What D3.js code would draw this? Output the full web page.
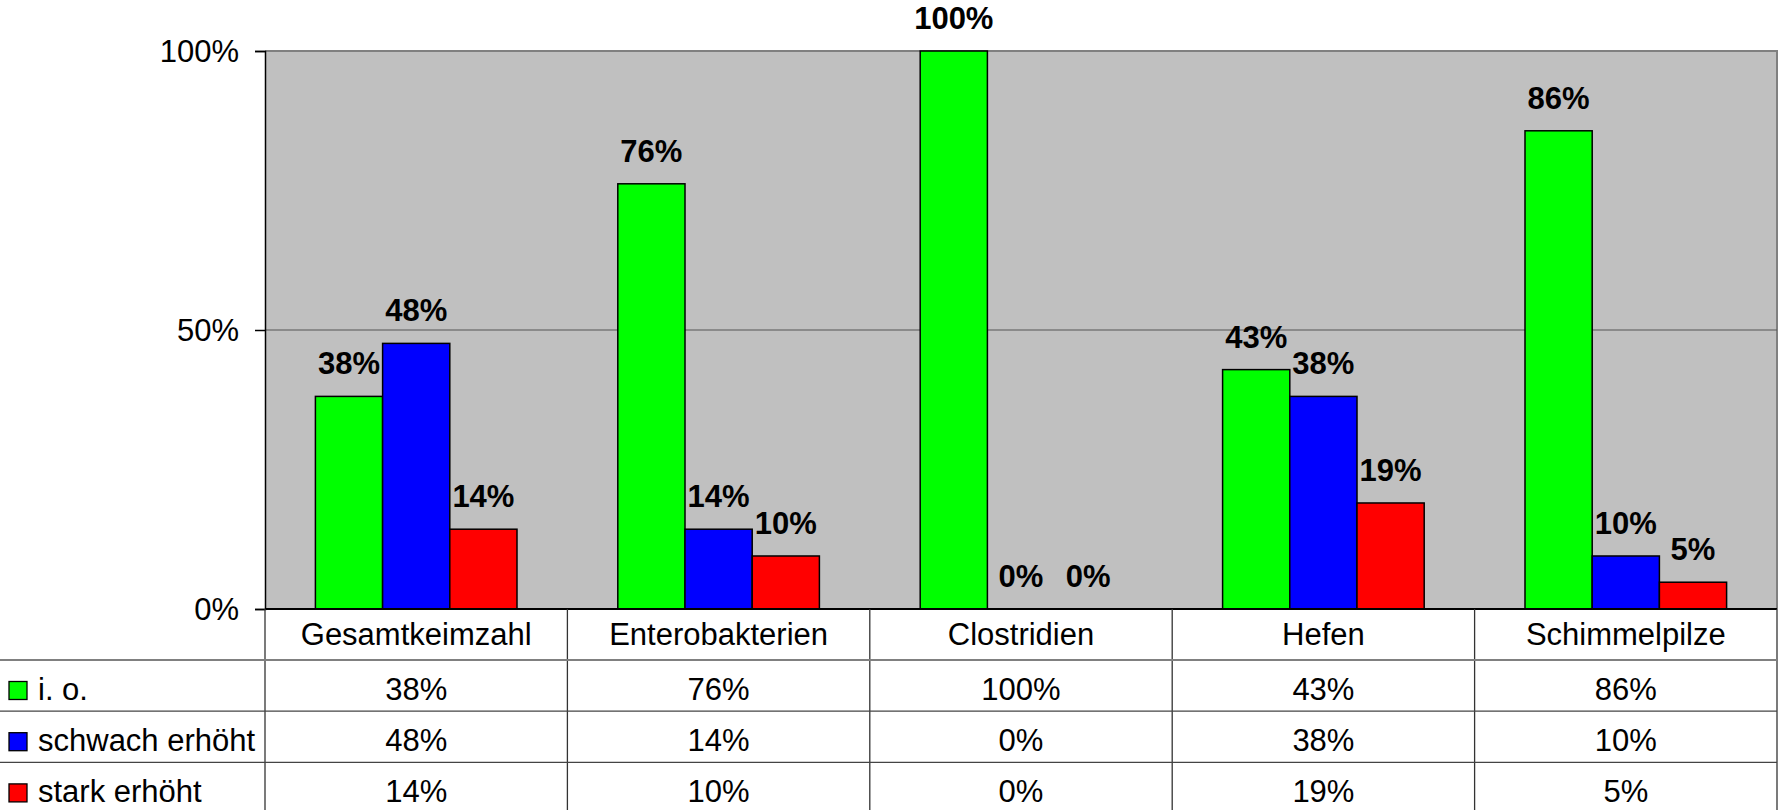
<!DOCTYPE html>
<html>
<head>
<meta charset="utf-8">
<script src="https://cdn.jsdelivr.net/npm/d3@7"></script>
<style>
  html, body { margin: 0; padding: 0; background: #fff; }
  svg { display: block; font-family: "Liberation Sans", Arial, sans-serif; }
</style>
</head>
<body>
<svg id="chart" width="1778" height="810"></svg>
<script>
// ---- data ----
const categories = ["Gesamtkeimzahl", "Enterobakterien", "Clostridien", "Hefen", "Schimmelpilze"];
const seriesNames = ["i. o.", "schwach erhöht", "stark erhöht"];
const ioValues = [0.381, 0.762, 1.0, 0.429, 0.857];
const schwachValues = [0.476, 0.143, 0.0, 0.381, 0.095];
const starkValues = [0.143, 0.095, 0.0, 0.190, 0.048];
const yTickValues = [0, 0.5, 1];
const seriesColors = ["#00FF00", "#0000FF", "#FF0000"];

const seriesValues = [ioValues, schwachValues, starkValues];

// ---- layout ----
const W = 1778, H = 810;
const plot = { left: 265, right: 1777, top: 51, bottom: 609 };
const fontSize = 31;
const fmt = d3.format(".0%");

const svg = d3.select("#chart");

const x0 = d3.scaleBand().domain(categories).range([plot.left, plot.right]).paddingInner(0).paddingOuter(0);
const bw = x0.bandwidth();
const barW = bw / 4.5; // gap width 150%
const x1 = d3.scaleBand().domain(seriesNames)
  .range([(bw - 3 * barW) / 2, (bw + 3 * barW) / 2]).padding(0);
const y = d3.scaleLinear().domain([0, 1]).range([plot.bottom, plot.top]);

// plot background
svg.append("rect")
  .attr("x", plot.left).attr("y", plot.top)
  .attr("width", plot.right - plot.left).attr("height", plot.bottom - plot.top)
  .attr("fill", "#C0C0C0");
// plot border (top/right) gray
svg.append("path")
  .attr("d", `M${plot.left},${plot.top}H${plot.right}V${plot.bottom}`)
  .attr("fill", "none").attr("stroke", "#808080").attr("stroke-width", 2);

// gridlines
svg.append("g").selectAll("line").data(yTickValues.filter(v => v > 0 && v < 1)).join("line")
  .attr("x1", plot.left).attr("x2", plot.right)
  .attr("y1", d => y(d)).attr("y2", d => y(d))
  .attr("stroke", "#555").attr("stroke-width", 1.2);

// y axis
const yAxis = d3.axisLeft(y).tickValues(yTickValues).tickFormat(fmt).tickSize(10).tickPadding(16);
const gy = svg.append("g").attr("transform", `translate(${plot.left},0)`).call(yAxis);
gy.select(".domain").attr("stroke", "#000").attr("stroke-width", 1.5);
gy.selectAll(".tick line").attr("stroke", "#000").attr("stroke-width", 1.5);
gy.selectAll(".tick text").attr("font-size", fontSize).attr("fill", "#000")
  .attr("font-family", "'Liberation Sans', Arial, sans-serif").attr("dy", "0.35em");

// bars
const groups = svg.append("g").selectAll("g").data(categories).join("g")
  .attr("transform", d => `translate(${x0(d)},0)`);

groups.each(function(cat, ci) {
  const g = d3.select(this);
  seriesNames.forEach((s, si) => {
    const v = seriesValues[si][ci];
    g.append("rect")
      .attr("x", x1(s)).attr("width", x1.bandwidth())
      .attr("y", y(v)).attr("height", y(0) - y(v))
      .attr("fill", seriesColors[si])
      .attr("stroke", v > 0 ? "#000" : "none").attr("stroke-width", 1.5);
    g.append("text")
      .attr("x", x1(s) + x1.bandwidth() / 2)
      .attr("y", y(v) - 22)
      .attr("text-anchor", "middle")
      .attr("font-size", fontSize).attr("font-weight", "bold")
      .attr("fill", "#000")
      .text(fmt(Math.round(v * 100) / 100));
  });
});

// x axis baseline
svg.append("line")
  .attr("x1", plot.left).attr("x2", plot.right)
  .attr("y1", plot.bottom).attr("y2", plot.bottom)
  .attr("stroke", "#000").attr("stroke-width", 2);

// ---- data table ----
const headerBottom = 660;
const rowScale = d3.scaleBand().domain(seriesNames).range([headerBottom, headerBottom + 3 * 51.2]);
const table = svg.append("g");

// vertical lines
table.selectAll("line.v").data(d3.range(categories.length + 1)).join("line")
  .attr("class", "v")
  .attr("x1", i => plot.left + i * bw).attr("x2", i => plot.left + i * bw)
  .attr("y1", plot.bottom).attr("y2", H)
  .attr("stroke", "#333").attr("stroke-width", 1.3);

// header bottom line
table.append("line")
  .attr("x1", 0).attr("x2", plot.right)
  .attr("y1", headerBottom).attr("y2", headerBottom)
  .attr("stroke", "#808080").attr("stroke-width", 2);
// row lines
table.selectAll("line.r").data(seriesNames.slice(1)).join("line")
  .attr("class", "r")
  .attr("x1", 0).attr("x2", plot.right)
  .attr("y1", d => rowScale(d)).attr("y2", d => rowScale(d))
  .attr("stroke", "#444").attr("stroke-width", 1.3);

// category labels
table.selectAll("text.cat").data(categories).join("text")
  .attr("class", "cat")
  .attr("x", d => x0(d) + bw / 2).attr("y", 645)
  .attr("text-anchor", "middle").attr("font-size", fontSize).attr("fill", "#000")
  .text(d => d);

// rows
seriesNames.forEach((s, si) => {
  const top = rowScale(s);
  const base = top + 39.5;
  table.append("rect")
    .attr("x", 9).attr("y", base - 18).attr("width", 18).attr("height", 18)
    .attr("fill", seriesColors[si]).attr("stroke", "#000").attr("stroke-width", 1.3);
  table.append("text")
    .attr("x", 38).attr("y", base)
    .attr("font-size", fontSize).attr("fill", "#000")
    .text(s);
  table.selectAll(null).data(categories).join("text")
    .attr("x", d => x0(d) + bw / 2).attr("y", base)
    .attr("text-anchor", "middle").attr("font-size", fontSize).attr("fill", "#000")
    .text((d, ci) => fmt(Math.round(seriesValues[si][ci] * 100) / 100));
});
</script>
</body>
</html>
